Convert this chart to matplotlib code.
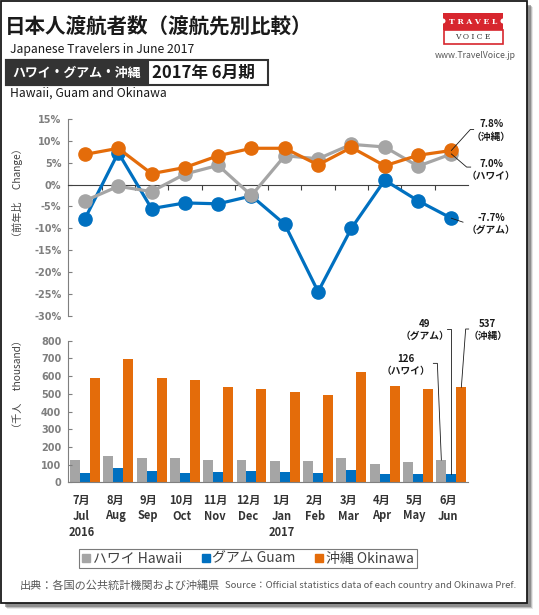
import matplotlib
matplotlib.use('Agg')
import matplotlib.pyplot as plt
from matplotlib.patches import Rectangle, Ellipse
from matplotlib.lines import Line2D
import numpy as np

plt.rcParams['font.family'] = ['Noto Sans CJK JP', 'DejaVu Sans']

# Data
months_jp = ['7月', '8月', '9月', '10月', '11月', '12月', '1月', '2月', '3月', '4月', '5月', '6月']
months_en = ['Jul', 'Aug', 'Sep', 'Oct', 'Nov', 'Dec', 'Jan', 'Feb', 'Mar', 'Apr', 'May', 'Jun']
year_labels = {0: '2016', 6: '2017'}

# year-on-year change (%)
hawaii_chg = [-3.7, -0.4, -1.6, 2.4, 4.4, -2.5, 6.6, 5.9, 9.2, 8.6, 4.2, 7.0]
guam_chg = [-7.8, 7.3, -5.5, -4.2, -4.4, -2.6, -9.1, -24.5, -10.0, 1.0, -3.7, -7.7]
okinawa_chg = [6.9, 8.3, 2.5, 3.9, 6.6, 8.3, 8.3, 4.5, 8.5, 4.3, 6.7, 7.8]

# travellers (thousand)
hawaii_vis = [124, 151, 135, 135, 125, 125, 121, 121, 135, 104, 116, 126]
guam_vis = [51, 79, 64, 51, 57, 64, 57, 51, 70, 47, 47, 49]
okinawa_vis = [587, 696, 588, 576, 538, 525, 508, 493, 622, 544, 525, 537]

c_gray = '#a5a5a5'
c_blue = '#0070c0'
c_orange = '#e46c0a'
c_tick = '#7f7f7f'

W, H = 539, 615
def fx(px):
    return px / W
def fy(py):
    return 1 - py / H

fig = plt.figure(figsize=(W / 100, H / 100), dpi=100)

# frame with drop shadow
for i, a in enumerate([0.15, 0.3, 0.5]):
    fig.add_artist(Rectangle((fx(4 + 3 - i), fy(609 - i)), fx(526), 602 / H,
                             transform=fig.transFigure, fc='#606060', ec='none',
                             alpha=a, zorder=-10))
fig.add_artist(Rectangle((fx(1), fy(603)), fx(526), 602 / H, transform=fig.transFigure,
                         fc='white', ec='#1a1a1a', lw=1.3, zorder=-5))

# header
fig.text(fx(5), fy(27), '日本人渡航者数（渡航先別比較）', fontsize=14.8, fontweight='bold',
         color='#1a1a1a', va='center', ha='left')
fig.text(fx(10), fy(50), 'Japanese Travelers in June 2017', fontsize=8.8,
         color='#1a1a1a', va='center', ha='left')
fig.add_artist(Rectangle((fx(6), fy(85)), fx(262), 25 / H, transform=fig.transFigure,
                         fc='white', ec='#333333', lw=1.5))
fig.add_artist(Rectangle((fx(6), fy(85)), fx(142), 25 / H, transform=fig.transFigure,
                         fc='#333333', ec='#333333', lw=1.5))
fig.text(fx(77), fy(72.5), 'ハワイ・グアム・沖縄', fontsize=9.3, fontweight='bold',
         color='white', va='center', ha='center')
fig.text(fx(203), fy(72.5), '2017年 6月期', fontsize=12, fontweight='bold',
         color='#1a1a1a', va='center', ha='center')
fig.text(fx(10), fy(93), 'Hawaii, Guam and Okinawa', fontsize=8.8,
         color='#1a1a1a', va='center', ha='left')

# logo
fig.add_artist(Rectangle((fx(443), fy(29.5)), fx(60), 16.8 / H, transform=fig.transFigure,
                         fc='#d7262e', ec='none'))
fig.add_artist(Rectangle((fx(443.5), fy(44)), fx(59), 14.5 / H, transform=fig.transFigure,
                         fc='white', ec='#d7262e', lw=1.2))
for ex in (443, 503):
    fig.add_artist(Ellipse((fx(ex), fy(21)), fx(5), 5 / H, transform=fig.transFigure,
                           fc='white', ec='none'))
fig.text(fx(473), fy(21.5), 'T R A V E L', fontsize=5.5, fontweight='bold', family='DejaVu Serif',
         color='white', va='center', ha='center')
fig.text(fx(473), fy(37), 'V O I C E', fontsize=5.5, family='DejaVu Serif',
         color='#333333', va='center', ha='center')
fig.text(fx(475.5), fy(56), 'www.TravelVoice.jp', fontsize=6.3,
         color='#595959', va='center', ha='center')

x = np.arange(len(months_en))

# --- line chart (change) ---
ax1 = fig.add_axes([fx(68.3), fy(315.7), fx(468 - 68.3), (315.7 - 119) / H])
ax1.set_facecolor('none')
ax1.plot(x, guam_chg, color=c_blue, lw=2.3, marker='o', ms=9.5, zorder=3)
ax1.plot(x, hawaii_chg, color=c_gray, lw=2.3, marker='o', ms=9.5, zorder=4)
ax1.plot(x, okinawa_chg, color=c_orange, lw=2.3, marker='o', ms=9.5, zorder=5)
ax1.set_xlim(-0.5, 11.5)
ax1.set_ylim(-30, 15)
ax1.set_yticks(np.arange(-30, 16, 5))
ax1.set_yticklabels([f'{v}%' for v in range(-30, 16, 5)])
ax1.spines['top'].set_visible(False)
ax1.spines['right'].set_visible(False)
ax1.spines['left'].set_color('#7f7f7f')
ax1.spines['left'].set_linewidth(0.8)
ax1.spines['bottom'].set_position(('data', 0))
ax1.spines['bottom'].set_color('#404040')
ax1.spines['bottom'].set_linewidth(0.8)
ax1.set_xticks(np.arange(0.5, 11, 1))
ax1.tick_params(axis='x', direction='out', length=3.5, width=0.8, color='#404040', labelbottom=False)
ax1.tick_params(axis='y', direction='in', length=3, width=0.8, color='#7f7f7f',
                labelcolor=c_tick, labelsize=7, pad=5)
for t in ax1.get_yticklabels():
    t.set_fontweight('bold')
    t.set_family('DejaVu Sans')

ann_kw = dict(fontsize=7, fontweight='bold', color='#1a1a1a', ha='center', va='center',
              linespacing=1.3)
ax1.text(12.2, 12.4, f'{okinawa_chg[-1]}%\n（沖縄）', **ann_kw)
ax1.text(12.2, 3.3, f'{hawaii_chg[-1]}%\n（ハワイ）', **ann_kw)
ax1.text(12.2, -9.0, f'{guam_chg[-1]}%\n（グアム）', **ann_kw)
ax1.plot([11, 11.57, 11.67], [okinawa_chg[-1], 12.6, 12.6], color='#1a1a1a', lw=0.6, clip_on=False, zorder=6)
ax1.plot([11, 11.46, 11.58], [hawaii_chg[-1], 4.0, 4.0], color='#1a1a1a', lw=0.6, clip_on=False, zorder=6)
ax1.plot([11, 11.35], [guam_chg[-1], -8.6], color='#1a1a1a', lw=0.6, clip_on=False, zorder=6)

fig.text(fx(18), fy(193), '（前年比　 Change）', rotation=90, fontsize=7.3,
         color='#404040', va='center', ha='center')

# --- bar chart (travellers) ---
ax2 = fig.add_axes([fx(68.3), fy(482.3), fx(468 - 68.3), (482.3 - 340.7) / H])
ax2.set_facecolor('none')
bw = 0.3
ax2.bar(x - bw, hawaii_vis, bw, color=c_gray)
ax2.bar(x, guam_vis, bw, color=c_blue)
ax2.bar(x + bw, okinawa_vis, bw, color=c_orange)
ax2.set_xlim(-0.5, 11.5)
ax2.set_ylim(0, 800)
ax2.set_yticks(np.arange(0, 801, 100))
ax2.spines['top'].set_visible(False)
ax2.spines['right'].set_visible(False)
for s in ('left', 'bottom'):
    ax2.spines[s].set_color('#7f7f7f')
    ax2.spines[s].set_linewidth(0.8)
ax2.set_xticks([])
ax2.tick_params(axis='y', direction='in', length=3, width=0.8, color='#7f7f7f',
                labelcolor=c_tick, labelsize=7, pad=5)
for t in ax2.get_yticklabels():
    t.set_fontweight('bold')
    t.set_family('DejaVu Sans')

ax2.text(10.2, 860, f'{guam_vis[-1]}\n（グアム）', **ann_kw, clip_on=False)
ax2.text(12.09, 860, f'{okinawa_vis[-1]}\n（沖縄）', **ann_kw, clip_on=False)
ax2.text(9.63, 663, f'{hawaii_vis[-1]}\n（ハワイ）', **ann_kw, clip_on=False)
ax2.plot([10.86, 11, 11], [866, 866, guam_vis[-1]], color='#1a1a1a', lw=0.6, clip_on=False)
ax2.plot([10.46, 10.58, 11 - bw], [672, 672, hawaii_vis[-1]], color='#1a1a1a', lw=0.6, clip_on=False)
ax2.plot([11.52, 11.43, 11 + bw], [866, 866, okinawa_vis[-1]], color='#1a1a1a', lw=0.6, clip_on=False)

fig.text(fx(18), fy(384), '（千人　 thousand）', rotation=90, fontsize=7.3,
         color='#404040', va='center', ha='center')

# month labels
lab_kw = dict(fontsize=8, fontweight='bold', color='#333333', ha='center', va='center',
              transform=ax2.get_xaxis_transform(), clip_on=False)
for i in x:
    ax2.text(i - 0.1, -(500 - 482.3) / 141.6, months_jp[i], **lab_kw)
    ax2.text(i - 0.1, -(516 - 482.3) / 141.6, months_en[i], **lab_kw)
    if i in year_labels:
        ax2.text(i - 0.1, -(532 - 482.3) / 141.6, year_labels[i], **lab_kw)

# legend
handles = [Line2D([], [], ls='none', marker='s', ms=6, color=c) for c in (c_gray, c_blue, c_orange)]
leg = fig.legend(handles, ['ハワイ Hawaii', 'グアム Guam', '沖縄 Okinawa'], ncol=3,
                 loc='center', bbox_to_anchor=(fx(248), fy(558.5)), fontsize=10,
                 frameon=True, fancybox=False, edgecolor='#595959', handlelength=0.6,
                 handletextpad=0.2, columnspacing=1.4, borderpad=0.2)
leg.get_frame().set_linewidth(0.8)
for t in leg.get_texts():
    t.set_color('#404040')

# source
fig.text(fx(20), fy(586), '出典：各国の公共統計機関および沖縄県', fontsize=8,
         color='#595959', va='center', ha='left')
fig.text(fx(225), fy(586), 'Source：Official statistics data of each country and Okinawa Pref.',
         fontsize=6.9, color='#595959', va='center', ha='left')

fig.savefig('out.png', dpi=100)
